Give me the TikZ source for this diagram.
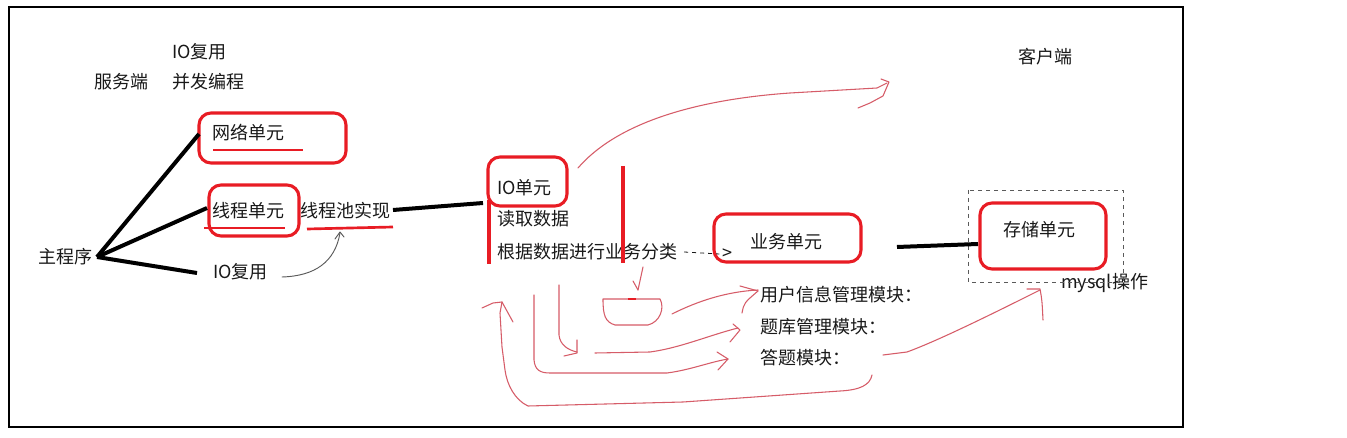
\documentclass[tikz,border=0pt]{standalone}
\usepackage{fontspec}
\setmainfont{Noto Sans CJK SC}
\definecolor{boxred}{RGB}{232,28,36}
\definecolor{penred}{RGB}{214,92,104}
\definecolor{ink}{RGB}{25,25,25}
\definecolor{pengray}{RGB}{90,90,90}
\begin{document}
\begin{tikzpicture}[x=0.75pt,y=-0.75pt,
  txt/.style={anchor=west,inner sep=0pt,font=\fontsize{13.5}{16}\selectfont,text=ink},
  redbox/.style={draw=boxred,line width=2.3pt,rounded corners=9pt},
  blackline/.style={draw=black,line width=3pt},
  redline/.style={draw=boxred,line width=2pt},
  pen/.style={draw=penred,line width=0.8pt,line cap=round,line join=round},
  graypen/.style={draw=pengray,line width=0.7pt,line cap=round,line join=round},
]
\useasboundingbox (0,0) rectangle (1347,438);
\fill[white] (0,0) rectangle (1347,438);
\draw[line width=2pt] (9,7) rectangle (1183,427);

% texts
\node[txt] (io1) at (172,52) {IO复用};
\node[txt] (fwd) at (94,82) {服务端};
\node[txt] (bf) at (172,82) {并发编程};
\node[txt] (net) at (212,133) {网络单元};
\node[txt] (thr) at (212,211) {线程单元};
\node[txt] (pool) at (300,211) {线程池实现};
\node[txt] (main) at (38,257) {主程序};
\node[txt] (io2) at (213,272) {IO复用};
\node[txt] (iou) at (497,188) {IO单元};
\node[txt] (read) at (497,219) {读取数据};
\node[txt] (cls) at (497,252) {根据数据进行业务分类};
\node[txt] (gt) at (722,254) {>};
\node[txt] (biz) at (750,242) {业务单元};
\node[txt] (user) at (760,295) {用户信息管理模块：};
\node[txt] (bank) at (760,327) {题库管理模块：};
\node[txt] (ans) at (760,358) {答题模块：};
\node[txt] (client) at (1018,57) {客户端};
\node[txt] (store) at (1003,230) {存储单元};
\node[txt] (mysql) at (1061,283) {mysql操作};

% red boxes
\draw[redbox] (199,113) rectangle (346,163);
\draw[redbox] (209,185) rectangle (299,236);
\draw[redbox] (488,157) rectangle (567,206);
\draw[redbox] (714,214) rectangle (861,262);
\draw[redbox] (980,203) rectangle (1106,269);
\draw[dashed,draw=pengray,line width=0.6pt] (968,190) rectangle (1123,282);

% coordinates for connector ends
\coordinate (mainR) at (97,257);
\coordinate (netL) at (199,134);
\coordinate (thrL) at (207,208);
\coordinate (io2L) at (197,273);
\coordinate (poolR) at (393,210);
\coordinate (iouL) at (483,203);
\coordinate (bizR) at (897,247);
\coordinate (storeL) at (978,244);

\draw[blackline] (mainR) -- (netL);
\draw[blackline] (mainR) -- (thrL);
\draw[blackline] (mainR) -- (io2L);
\draw[blackline] (poolR) -- (iouL);
\draw[blackline] (bizR) -- (storeL);

% red underlines / bars
\draw[redline] (213,150) -- (303,150);
\draw[redline] (204,228) -- (285,228);
\draw[redline] (307,229) -- (393,227);
\draw[redline,line width=2.3pt] (489,200) -- (489,264);
\draw[redline,line width=2.3pt] (623,166) -- (623,263);

% dashed pointer
\draw[dashed,draw=ink,line width=0.6pt] ([xshift=5pt]cls.east) -- ([xshift=-2pt]gt.west);

% gray arrow
\draw[graypen] (282,277) .. controls (315,276) and (335,262) .. (340,233);
\draw[graypen] (335,239) -- (340,232) -- (344,237);

% hand-drawn red strokes
\draw[pen] (578,168) .. controls (615,125) and (690,100) .. (790,93) -- (877,88) -- (887,83);
\draw[pen] (881,79) -- (889,82) -- (883,96) -- (870,103) -- (858,108);

\draw[pen] (643,267) .. controls (640,278) .. (638,290);
\draw[pen] (633,281) -- (638,290);

\draw[pen] (603,299) -- (660,299) .. controls (665,308) and (660,322) .. (648,325) -- (615,325) .. controls (605,322) and (603,315) .. (603,299);
\draw[boxred,line width=1.2pt] (628,299) -- (636,299);

\draw[pen] (672,314) .. controls (690,305) and (720,292) .. (758,290);
\draw[pen] (740,286) -- (758,291);
\draw[pen] (742,313) .. controls (744,303) .. (758,291);

\draw[pen] (559,285) -- (559,335) .. controls (560,345) and (568,350) .. (577,352);
\draw[pen] (577,340) -- (577,353) -- (564,356);

\draw[pen] (595,353) -- (650,352) .. controls (680,348) and (710,335) .. (738,328);
\draw[pen] (733,324) -- (740,330) -- (730,342);

\draw[pen] (534,295) -- (534,360) .. controls (535,370) and (540,373) .. (550,373) -- (667,373) .. controls (690,370) and (710,362) .. (728,359);
\draw[pen] (717,352) -- (728,359) -- (718,370);

\draw[pen] (872,375) .. controls (870,385) and (860,390) .. (840,391) -- (683,402) -- (528,406) .. controls (515,400) and (507,385) .. (505,370) -- (502,347) -- (500,313) -- (502,302);
\draw[pen] (482,308) -- (493,303) -- (502,302) -- (513,322);

\draw[pen] (883,355) -- (907,352) .. controls (940,340) and (1000,310) .. (1040,290);
\draw[pen] (1027,289) -- (1040,289) .. controls (1042,300) .. (1043,320);
\end{tikzpicture}
\end{document}
